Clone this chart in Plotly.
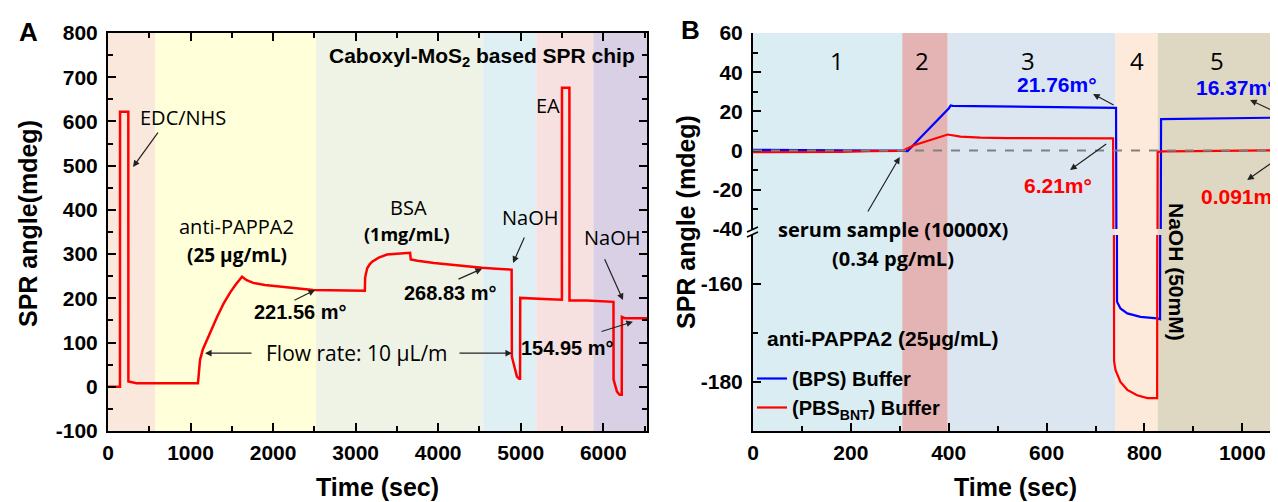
import plotly.graph_objects as go

# ---------------- Data ----------------
# Panel A: Caboxyl-MoS2 SPR chip sensorgram
a_time = [0, 145, 146, 246, 247, 347, 1090, 1100, 1115, 1150, 1200, 1260, 1321, 1400, 1479, 1550, 1624,
          1680, 1760, 1900, 2125, 2300, 2485, 2700, 2900, 3112, 3115, 3140, 3170, 3200, 3280, 3380, 3500, 3660,
          3668, 3750, 3950, 4145, 4350, 4530, 4700, 4890, 4893, 4913, 4933, 4954, 4982, 4992, 4994,
          5150, 5350, 5499, 5500, 5590, 5591, 5800, 6000, 6124, 6125, 6150, 6166, 6198, 6224, 6226, 6260, 6530]
a_angle = [0, 0, 622, 622, 12, 8, 8, 35, 61, 85, 106, 135, 158, 188, 213, 232, 249,
           241, 235, 230, 226, 222, 219, 218, 217, 217, 247, 268, 277, 283, 292, 299, 301, 303,
           288, 285, 280, 276, 272, 269, 267, 265, 68, 54, 34, 23, 18, 18, 201,
           199, 198, 197, 676, 676, 195, 195, 194, 192, 16, 1, -11, -18, -18, 158, 155, 155]

a_phase_edges = [0, 570, 2520, 4545, 5188, 5880, 6530]
a_yticks = [-100, 0, 100, 200, 300, 400, 500, 600, 700, 800]

# Panel B: (BPS) buffer and (PBS_BNT) buffer
b_time_bps = [0, 40, 80, 120, 200, 260, 300, 316, 340, 360, 380, 400, 404, 408, 450, 500, 550, 600, 650,
              700, 742, 744, 751, 765, 792, 826, 832, 834, 870, 900, 950, 1000, 1040, 1073]
b_angle_bps = [0.4, 0.3, 0.4, 0, 0, 0, 0, -0.3, 6, 11, 16, 21.5, 23, 22.8, 22.7, 22.6, 22.4, 22.2, 22.0,
               21.9, 21.76, -163.6, -165, -166, -166.7, -167, -167.2, 16.1, 16.2, 16.3, 16.4, 16.5, 16.6, 16.8]

b_time_pbs = [0, 60, 120, 180, 240, 280, 305, 329, 363, 398, 424, 465, 520, 580, 640, 700, 736, 738, 741,
              751, 765, 785, 806, 826, 827, 840, 900, 960, 1020, 1073]
b_angle_pbs = [-0.8, -0.8, -0.7, -0.6, -0.3, -0.2, -0.2, 2.7, 5.4, 8.2, 7.1, 6.6, 6.4, 6.3, 6.3, 6.2, 6.21,
               -175.8, -177.6, -180, -181.6, -182.7, -183.3, -183.3, -0.6, -0.4, -0.3, -0.2, -0.1, 0.1]

b_phase_edges = [0, 305, 398, 741, 827, 1073]
b_phase_labels = ["1", "2", "3", "4", "5"]
b_yticks_top = [-40, -20, 0, 20, 40, 60]
b_yticks_low = [-180, -160]

# ---------------- Styling ----------------
OX, OY = 8, 8                # page body margin offset
W, H = 1278 - OX, 502 - OY   # figure size
ARIAL = "Liberation Sans, Arial, sans-serif"
CAL = "Open Sans, sans-serif"
a_colors = ["#FBE8DC", "#FFFFDA", "#EFF3E5", "#DFF0F5", "#F6E0E0", "#D9D0E5"]
b_colors = ["#DAEDF3", "#E4B4B4", "#DCE6F1", "#FDEADB", "#DED8C2"]


def P(x, y):
    return (x - OX) / W, 1 - (y - OY) / H


def PX(x):
    return P(x, 0)[0]


def PY(y):
    return P(0, y)[1]


fig = go.Figure()

fig.add_trace(go.Scatter(x=a_time, y=a_angle, mode="lines", line=dict(color="#FF0000", width=2.5),
                         xaxis="x", yaxis="y", showlegend=False, hoverinfo="skip"))

for t, v, c, name in [(b_time_bps, b_angle_bps, "#0000FF", "(BPS) Buffer"),
                      (b_time_pbs, b_angle_pbs, "#FF0000", "(PBS<sub>BNT</sub>) Buffer")]:
    fig.add_trace(go.Scatter(x=t, y=v, mode="lines", line=dict(color=c, width=2.2),
                             xaxis="x2", yaxis="y2", name=name, showlegend=True))
    fig.add_trace(go.Scatter(x=t, y=v, mode="lines", line=dict(color=c, width=2.2),
                             xaxis="x2", yaxis="y3", name=name, showlegend=False))

tickfont = dict(family=ARIAL, size=21, color="black", weight="bold")
common = dict(showline=True, linecolor="black", linewidth=2, ticks="inside", ticklen=8, tickwidth=2,
              tickcolor="black", showgrid=False, zeroline=False, tickfont=tickfont, automargin=False)
titlefont = dict(family=ARIAL, size=25, color="black", weight="bold")


def minor(d):
    return dict(dtick=d, ticks="inside", ticklen=5, tickwidth=2, tickcolor="black")


shapes = []
for i in range(len(a_colors)):
    shapes.append(dict(type="rect", xref="x", yref="y domain", x0=a_phase_edges[i], x1=a_phase_edges[i + 1],
                       y0=0, y1=1, fillcolor=a_colors[i], line=dict(width=0), layer="below"))
for i in range(len(b_colors)):
    shapes.append(dict(type="rect", xref="x2", yref="paper", x0=b_phase_edges[i], x1=b_phase_edges[i + 1],
                       y0=PY(431), y1=PY(33), fillcolor=b_colors[i], line=dict(width=0), layer="below"))
# zero reference line
shapes.append(dict(type="line", xref="x2", yref="y2", x0=0, x1=1073, y0=0, y1=0,
                   line=dict(color="#808080", width=2, dash="dash"), layer="above"))
# axis break marks
for yy in (232, 237):
    x0, y0 = P(747, yy)
    x1, y1 = P(758, yy - 5)
    shapes.append(dict(type="line", xref="paper", yref="paper", x0=x0, y0=y0, x1=x1, y1=y1,
                       line=dict(color="black", width=1.5)))

ann = []


def text(x, y, s, size=20, family=CAL, bold=False, color="black", angle=0):
    px_, py_ = P(x, y)
    ann.append(dict(x=px_, y=py_, xref="paper", yref="paper", text=s, showarrow=False, textangle=angle,
                    font=dict(family=family, size=size, color=color, weight="bold" if bold else "normal"),
                    xanchor="center", yanchor="middle"))


def arrow(xr, yr, tx, ty, hx, hy):
    ann.append(dict(x=hx, y=hy, ax=tx, ay=ty, xref=xr, yref=yr, axref=xr, ayref=yr, text="",
                    showarrow=True, arrowhead=2, arrowsize=1.1, arrowwidth=1.2, arrowcolor="#222222"))


# panel labels
text(28, 32, "A", size=26, family=ARIAL, bold=True)
text(690, 30, "B", size=26, family=ARIAL, bold=True)
# y axis titles
text(28, 224, "SPR angle(mdeg)", size=25, family=ARIAL, bold=True, angle=-90)
text(686, 222, "SPR angle (mdeg)", size=25, family=ARIAL, bold=True, angle=-90)

# Panel A annotations
text(482, 57, "Caboxyl-MoS<sub>2</sub> based SPR chip", size=21, family=ARIAL, bold=True)
text(183, 117, "EDC/NHS", size=20)
arrow("x", "y", 618, 578, 303, 497)
text(236, 226, "anti-PAPPA2", size=20)
text(237, 255, "(25 μg/mL)", size=19, bold=True)
text(300, 312, "221.56 m°", size=20, family=ARIAL, bold=True)
arrow("x", "y", 2241, 194, 2508, 219)
text(357, 353, "Flow rate: 10 μL/m", size=21)
arrow("x", "y", 1757, 76, 1175, 76)
arrow("x", "y", 4240, 76, 4895, 76)
text(408, 207, "BSA", size=20)
text(407, 234, "(1mg/mL)", size=18, bold=True)
text(450, 293, "268.83 m°", size=20, family=ARIAL, bold=True)
arrow("x", "y", 4228, 242, 4531, 267)
text(530, 217, "NaOH", size=20)
arrow("x", "y", 5052, 341, 4907, 280)
text(548, 105, "EA", size=20)
text(612, 237, "NaOH", size=20)
arrow("x", "y", 6009, 292, 6239, 196)
text(567, 348, "154.95 m°", size=20, family=ARIAL, bold=True)
arrow("x", "y", 5961, 124, 6360, 147)

# Panel B annotations
for lab, xx in zip(b_phase_labels, [837, 922, 1028, 1137, 1217]):
    text(xx, 61, lab, size=24)
text(1057, 85, "21.76m°", size=21, family=ARIAL, bold=True, color="#0000FF")
arrow("x2", "y2", 740, 22.8, 695, 28.9)
text(1058, 185, "6.21m°", size=21, family=ARIAL, bold=True, color="#FF0000")
arrow("x2", "y2", 725, 3.9, 648, -9.9)
text(1236, 88, "16.37m°", size=21, family=ARIAL, bold=True, color="#0000FF")
arrow("x2", "y2", 1077, 18.7, 1016, 25.8)
text(1241, 196, "0.091m°", size=21, family=ARIAL, bold=True, color="#FF0000")
arrow("x2", "y2", 1077, -3.3, 1010, -15)
text(893, 229, "serum sample (10000X)", size=20, bold=True)
text(893, 258, "(0.34 pg/mL)", size=20, bold=True)
arrow("x2", "y2", 233, -31.8, 300, -3.3)
text(1177, 272, "NaOH (50mM)", size=21, family=ARIAL, bold=True, angle=90)
text(882, 338, "anti-PAPPA2 (25μg/mL)", size=21, family=ARIAL, bold=True)

lx, ly = P(752, 359)

fig.update_layout(
    width=W, height=H, margin=dict(l=0, r=0, t=0, b=0, autoexpand=False),
    paper_bgcolor="white", plot_bgcolor="rgba(0,0,0,0)",
    showlegend=True,
    legend=dict(x=lx, y=ly, xanchor="left", yanchor="top", bgcolor="rgba(0,0,0,0)",
                font=dict(family=ARIAL, size=20, color="black", weight="bold"), tracegroupgap=0),
    xaxis=dict(domain=[PX(108), PX(647)], range=[0, 6530], anchor="y", dtick=1000, tick0=0,
               mirror="ticks", minor=minor(500),
               title=dict(text="Time (sec)", font=titlefont, standoff=15),
               ticklabelstandoff=2, **common),
    yaxis=dict(domain=[PY(431), PY(33)], range=[-100, 800], anchor="x",
               tickmode="array", tickvals=a_yticks, ticktext=[str(v) for v in a_yticks],
               mirror="ticks", minor=minor(50), ticklabelstandoff=4, **common),
    xaxis2=dict(domain=[PX(753), 1.0], range=[0, 1073], anchor="y3", dtick=200, tick0=0,
                minor=minor(100),
                title=dict(text="Time (sec)", font=titlefont, standoff=15),
                ticklabelstandoff=2, **common),
    xaxis3=dict(overlaying="x2", matches="x2", anchor="y2", side="top", showticklabels=False, dtick=200, tick0=0,
                minor=minor(100), **{k: v for k, v in common.items() if k != "tickfont"}),
    yaxis2=dict(domain=[PY(229), PY(33)], range=[-40, 60], anchor="x2",
                tickmode="array", tickvals=b_yticks_top, ticktext=[str(v) for v in b_yticks_top],
                minor=minor(10), ticklabelstandoff=4, **common),
    yaxis3=dict(domain=[PY(431), PY(235)], range=[-190, -150], anchor="x2",
                tickmode="array", tickvals=b_yticks_low, ticktext=[str(v) for v in b_yticks_low],
                minor=minor(10), ticklabelstandoff=4, **common),
    shapes=shapes, annotations=ann,
)

fig.write_html("out.html")
